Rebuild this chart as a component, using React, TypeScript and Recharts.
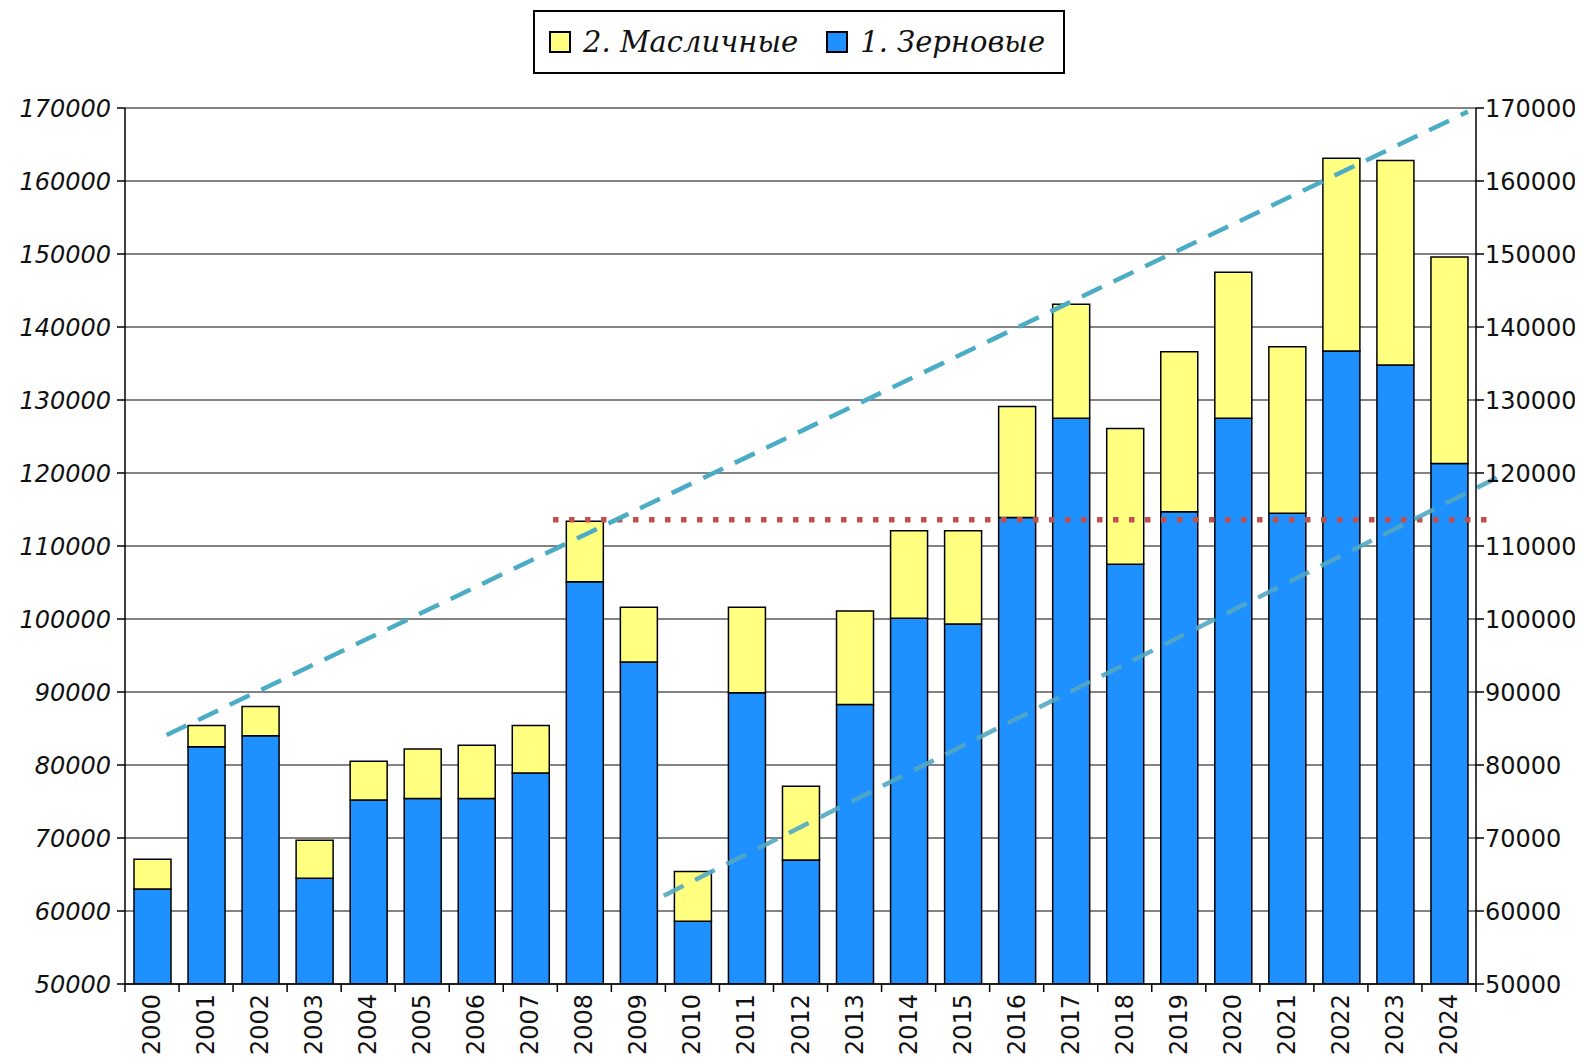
import React from "react";
import {
  Bar,
  BarChart,
  CartesianGrid,
  ReferenceLine,
  XAxis,
  YAxis,
} from "recharts";

const years = [
  "2000", "2001", "2002", "2003", "2004", "2005", "2006", "2007", "2008",
  "2009", "2010", "2011", "2012", "2013", "2014", "2015", "2016", "2017",
  "2018", "2019", "2020", "2021", "2022", "2023", "2024",
];

// 1. Зерновые
const grain = [
  63000, 82500, 84000, 64500, 75200, 75400, 75400, 78900, 105100, 94100,
  58600, 89900, 67000, 88300, 100100, 99300, 113900, 127500, 107500, 114700,
  127500, 114500, 136700, 134800, 121300,
];

// 2. Масличные
const oilseeds = [
  4100, 2900, 4000, 5200, 5300, 6800, 7300, 6500, 8300, 7500, 6800, 11700,
  10100, 12800, 12000, 12800, 15200, 15600, 18600, 21900, 20000, 22800,
  26400, 28000, 28300,
];

const yTicks = [
  50000, 60000, 70000, 80000, 90000, 100000, 110000, 120000, 130000, 140000,
  150000, 160000, 170000,
];

// trend lines, x in category index units
const upperTrend = [
  { x: 0.27, y: 84100 },
  { x: 24.35, y: 169500 },
];
const lowerTrend = [
  { x: 9.47, y: 62100 },
  { x: 24.9, y: 119400 },
];
const level2008 = [
  { x: 7.42, y: 113600 },
  { x: 24.87, y: 113600 },
];

const data = years.map((year, i) => ({
  year,
  idx: i,
  grain: grain[i],
  oilseeds: oilseeds[i],
}));

const FONT = "'DejaVu Sans', Verdana, sans-serif";

function YearTick(props: any) {
  const { x, y, payload, index, width } = props;
  const band = (width || 1351) / years.length;
  const ty = y + 10;
  return (
    <g>
      <line x1={x - band / 2} x2={x - band / 2} y1={y} y2={y + 8} stroke="#000" strokeWidth={1.5} />
      {index === years.length - 1 && (
        <line x1={x + band / 2} x2={x + band / 2} y1={y} y2={y + 8} stroke="#000" strokeWidth={1.5} />
      )}
      <text
        x={x}
        y={ty}
        transform={`rotate(-90 ${x} ${ty})`}
        textAnchor="end"
        dominantBaseline="central"
        fontSize={24}
        fontFamily={FONT}
        fill="#111"
      >
        {payload.value}
      </text>
    </g>
  );
}

function LegendBox() {
  const square = (color: string) => (
    <span
      style={{
        display: "inline-block",
        width: 18,
        height: 18,
        background: color,
        border: "2px solid #000",
        marginRight: 12,
      }}
    />
  );
  const label: React.CSSProperties = {
    fontFamily: "'DejaVu Serif', 'Liberation Serif', serif",
    fontStyle: "italic",
    fontSize: 29,
    color: "#111",
  };
  return (
    <div
      style={{
        position: "absolute",
        left: 525,
        top: 2,
        width: 514,
        height: 60,
        border: "2px solid #000",
        background: "#fff",
        display: "flex",
        alignItems: "center",
        paddingLeft: 14,
        boxSizing: "content-box",
      }}
    >
      {square("#ffff80")}
      <span style={label}>2. Масличные</span>
      <span style={{ width: 28 }} />
      {square("#1e90ff")}
      <span style={label}>1. Зерновые</span>
    </div>
  );
}

export default function App() {
  return (
    <div style={{ position: "relative", width: 1575, height: 1049 }}>
      <BarChart
        width={1575}
        height={1049}
        data={data}
        margin={{ top: 100, right: 12, bottom: 8, left: 7 }}
        barSize={37}
      >
        <CartesianGrid vertical={false} stroke="#5a5a5a" strokeWidth={1.5} />
        <XAxis
          dataKey="year"
          height={65}
          tickLine={false}
          tickSize={0}
          tickMargin={0}
          axisLine={{ stroke: "#000", strokeWidth: 1.5 }}
          interval={0}
          tick={<YearTick />}
        />
        <XAxis xAxisId="t" type="number" dataKey="idx" domain={[-0.5, 24.5]} allowDataOverflow hide />
        <YAxis
          width={110}
          domain={[50000, 170000]}
          ticks={yTicks}
          allowDataOverflow
          interval={0}
          tickSize={8}
          tickMargin={6}
          axisLine={{ stroke: "#000", strokeWidth: 1.5 }}
          tickLine={{ stroke: "#000", strokeWidth: 1.5 }}
          tick={{ fontSize: 24, fontFamily: FONT, fontStyle: "italic", fill: "#111" }}
        />
        <YAxis
          yAxisId="right"
          orientation="right"
          width={95}
          domain={[50000, 170000]}
          ticks={yTicks}
          allowDataOverflow
          interval={0}
          tickSize={8}
          tickMargin={1}
          axisLine={{ stroke: "#000", strokeWidth: 1.5 }}
          tickLine={{ stroke: "#000", strokeWidth: 1.5 }}
          tick={{ fontSize: 24, fontFamily: FONT, fill: "#111" }}
        />
        <Bar
          dataKey="grain"
          name="1. Зерновые"
          stackId="a"
          fill="#1e90ff"
          stroke="#000"
          strokeWidth={1.5}
          isAnimationActive={false}
        />
        <Bar
          dataKey="oilseeds"
          name="2. Масличные"
          stackId="a"
          fill="#ffff80"
          stroke="#000"
          strokeWidth={1.5}
          isAnimationActive={false}
        />
        <ReferenceLine
          xAxisId="t"
          segment={level2008}
          ifOverflow="visible"
          stroke="#c0504d"
          strokeWidth={5.5}
          strokeDasharray="5.5 10.5"
        />
        <ReferenceLine
          xAxisId="t"
          segment={upperTrend}
          ifOverflow="visible"
          stroke="#4bacc6"
          strokeWidth={4.5}
          strokeDasharray="22 13"
        />
        <ReferenceLine
          xAxisId="t"
          segment={lowerTrend}
          ifOverflow="visible"
          stroke="#52a9c2"
          strokeOpacity={0.9}
          strokeWidth={4.5}
          strokeDasharray="22 13"
        />
      </BarChart>
      <LegendBox />
    </div>
  );
}
